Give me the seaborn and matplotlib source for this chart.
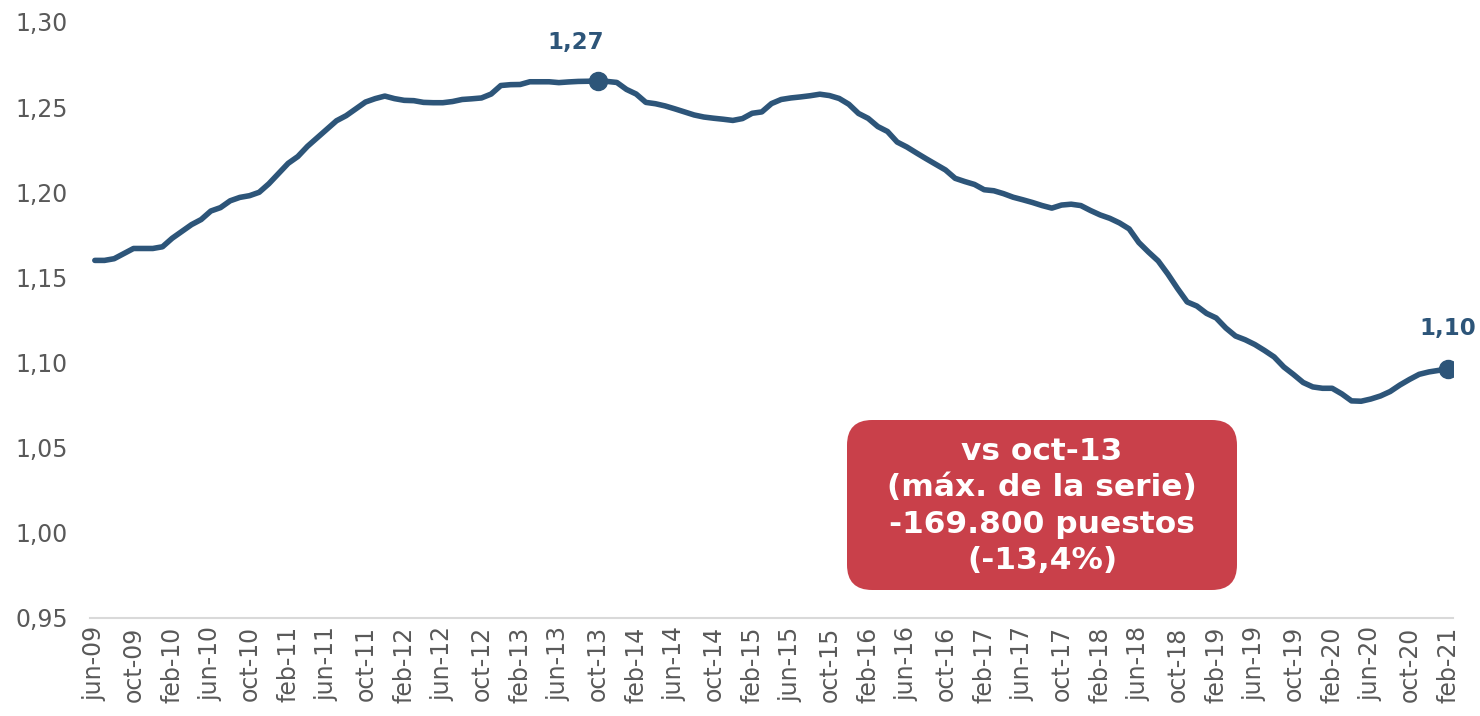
import matplotlib
matplotlib.use("Agg")
import matplotlib.pyplot as plt
import seaborn as sns
import pandas as pd
from matplotlib.patches import FancyBboxPatch

# Monthly series, jun-09 .. feb-21 (millions)
values = [
    1.160, 1.160, 1.161, 1.164, 1.167, 1.167, 1.167, 1.168, 1.173, 1.177,
    1.181, 1.184, 1.189, 1.191, 1.195, 1.197, 1.198, 1.200, 1.205, 1.211,
    1.217, 1.221, 1.227, 1.232, 1.237, 1.242, 1.245, 1.249, 1.253, 1.255,
    1.2565, 1.255, 1.254, 1.2538, 1.2528, 1.2526, 1.2526, 1.2533, 1.2545, 1.2549,
    1.2554, 1.2577, 1.2627, 1.2632, 1.2633, 1.2649, 1.2649, 1.2649, 1.2644, 1.2648,
    1.2651, 1.2652, 1.2655, 1.2651, 1.2645, 1.2604, 1.2577, 1.2528, 1.2520, 1.2507,
    1.2490, 1.2472, 1.2454, 1.2442, 1.2435, 1.2429, 1.2422, 1.2433, 1.2464, 1.2472,
    1.2521, 1.2545, 1.2554, 1.2560, 1.2567, 1.2576, 1.2568, 1.2551, 1.2517, 1.2463,
    1.2434, 1.2386, 1.2357, 1.2295, 1.2266, 1.2231, 1.2197, 1.2164, 1.2131, 1.2082,
    1.2063, 1.2046, 1.2015, 1.2009, 1.1992, 1.1971, 1.1956, 1.1940, 1.1922, 1.1907,
    1.1925, 1.1930, 1.1922, 1.1893, 1.1867, 1.1847, 1.1820, 1.1785, 1.1705, 1.1649,
    1.1597, 1.1520, 1.1435, 1.1356, 1.1332, 1.1289, 1.1262, 1.1203, 1.1156, 1.1134,
    1.1106, 1.1071, 1.1033, 1.0974, 1.0930, 1.0883, 1.0857, 1.0849, 1.0849, 1.0816,
    1.0775, 1.0773, 1.0786, 1.0804, 1.0830, 1.0868, 1.0901, 1.0931, 1.0945, 1.0954,
    1.0961,
]

tick_labels = [
    "jun-09", "oct-09", "feb-10", "jun-10", "oct-10", "feb-11", "jun-11", "oct-11",
    "feb-12", "jun-12", "oct-12", "feb-13", "jun-13", "oct-13", "feb-14", "jun-14",
    "oct-14", "feb-15", "jun-15", "oct-15", "feb-16", "jun-16", "oct-16", "feb-17",
    "jun-17", "oct-17", "feb-18", "jun-18", "oct-18", "feb-19", "jun-19", "oct-19",
    "feb-20", "jun-20", "oct-20", "feb-21",
]

y_ticks = [0.95, 1.00, 1.05, 1.10, 1.15, 1.20, 1.25, 1.30]

peak_label = "1,27"
last_label = "1,10"
box_text = "vs oct-13\n(máx. de la serie)\n-169.800 puestos\n(-13,4%)"

line_color = "#2D5579"
box_color = "#C9404A"
grey = "#595959"

df = pd.DataFrame({"m": range(len(values)), "v": values})

sns.set_theme(style="white")
plt.rcParams["font.family"] = ["DejaVu Sans"]

fig = plt.figure(figsize=(14.8, 7.16), dpi=100)
ax = fig.add_axes([90 / 1480, 1 - 618 / 716, (1453 - 90) / 1480, (618 - 22) / 716])

sns.lineplot(data=df, x="m", y="v", ax=ax, color=line_color, linewidth=4.0,
             solid_capstyle="round", solid_joinstyle="round")

ax.set_xlim(-0.5, len(values) - 0.5)
ax.set_ylim(0.95, 1.30)
ax.set_xlabel("")
ax.set_ylabel("")

ax.set_xticks(range(0, len(values), 4))
ax.set_xticklabels(tick_labels, rotation=90, fontsize=17, color=grey)
ax.set_yticks(y_ticks)
ax.set_yticklabels([f"{t:.2f}".replace(".", ",") for t in y_ticks], fontsize=17, color=grey)
ax.tick_params(axis="y", length=0, pad=16)
ax.tick_params(axis="x", length=0, pad=6)

for s in ["top", "right", "left"]:
    ax.spines[s].set_visible(False)
ax.spines["bottom"].set_color("#D9D9D9")
ax.spines["bottom"].set_linewidth(1.5)

# markers
peak_i = max(range(len(values)), key=lambda i: values[i])
last_i = len(values) - 1
ax.plot([peak_i, last_i], [values[peak_i], values[last_i]], "o",
        color=line_color, markersize=13, zorder=5)
ax.annotate(peak_label, (peak_i, values[peak_i]), xytext=(-16, 19),
            textcoords="offset points", ha="center", va="bottom",
            fontsize=16.5, fontweight="bold", color=line_color)
ax.annotate(last_label, (last_i, values[last_i]), xytext=(0, 21),
            textcoords="offset points", ha="center", va="bottom",
            fontsize=16.5, fontweight="bold", color=line_color)

# callout box
W, H = 1480, 716
bx0, by0, bx1, by1 = 847, 420, 1237, 590
box = FancyBboxPatch((bx0 / W, 1 - by1 / H), (bx1 - bx0) / W, (by1 - by0) / H,
                     boxstyle="round,pad=0,rounding_size=0.017",
                     transform=fig.transFigure, facecolor=box_color,
                     edgecolor="none", mutation_aspect=W / H, zorder=10)
fig.add_artist(box)
fig.text((bx0 + bx1) / 2 / W, 1 - 506 / H, box_text, ha="center", va="center",
         fontsize=22.5, fontweight="bold", color="white", linespacing=1.32,
         zorder=11)

fig.savefig("out.png", dpi=100)
